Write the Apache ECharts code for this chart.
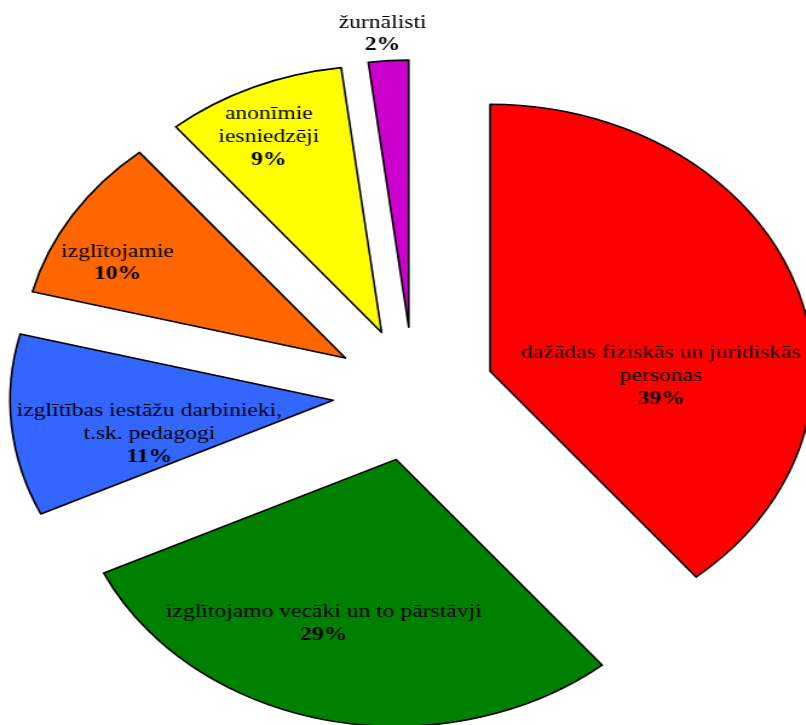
<!DOCTYPE html>
<html>
<head>
<meta charset="utf-8">
<script src="https://cdn.jsdelivr.net/npm/echarts@6/dist/echarts.min.js"></script>
<style>
  html, body { margin: 0; padding: 0; background: #ffffff; overflow: hidden; }
  #wrap { width: 806px; height: 725px; overflow: hidden; }
  #chart { width: 666px; height: 725px; transform: scaleX(1.21); transform-origin: 0 0; }
</style>
</head>
<body>
<div id="wrap"><div id="chart"></div></div>
<script>
// Data
var categories = [
  'dažādas fiziskās un juridiskās\npersonas',
  'izglītojamo vecāki un to pārstāvji',
  'izglītības iestāžu darbinieki,\nt.sk. pedagogi',
  'izglītojamie',
  'anonīmie\niesniedzēji',
  'žurnālisti'
];
var values = [39, 29, 11, 10, 9, 2];

// Styles
var colors = ['#ff0000', '#008000', '#3366ff', '#ff6600', '#ffff00', '#cc00cc'];
var labelNudge = [[13, 51], [-30, 31], [-16, 21], [-73, -22], [-39, -70], [-13, -157]];

var chart = echarts.init(document.getElementById('chart'), null, { renderer: 'canvas' });

var seriesData = categories.map(function (c, i) {
  return {
    name: c,
    value: values[i],
    selected: true,
    itemStyle: { color: colors[i] }
  };
});

chart.setOption({
  backgroundColor: '#ffffff',
  animation: false,
  series: [{
    type: 'pie',
    center: [342, 394],
    radius: [0, 267],
    startAngle: 90,
    clockwise: true,
    selectedMode: 'multiple',
    selectedOffset: 67,
    emphasis: { scale: false },
    select: { itemStyle: { borderColor: '#000', borderWidth: 1.6 } },
    itemStyle: { borderColor: '#000', borderWidth: 1.6 },
    labelLine: { show: false },
    label: {
      show: true,
      position: 'inside',
      color: '#000',
      fontFamily: 'Liberation Serif',
      fontSize: 19.5,
      lineHeight: 23,
      align: 'center',
      formatter: function (p) {
        return '{n|' + p.name + '}\n{p|' + p.value + '%}';
      },
      rich: {
        n: { fontFamily: 'Liberation Serif', fontSize: 19.5, lineHeight: 23, color: '#000', align: 'center' },
        p: { fontFamily: 'Liberation Serif', fontSize: 19.5, lineHeight: 23, fontWeight: 'bold', color: '#000', align: 'center' }
      }
    },
    labelLayout: function (params) {
      var n = labelNudge[params.dataIndex];
      return { dx: n[0], dy: n[1] };
    },
    data: seriesData
  }]
});
</script>
</body>
</html>
